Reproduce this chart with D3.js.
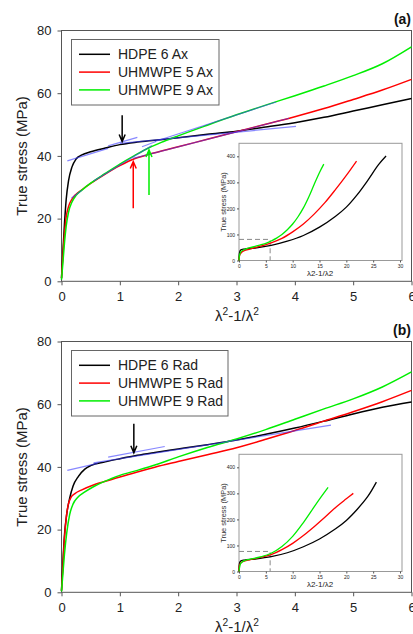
<!DOCTYPE html>
<html>
<head>
<meta charset="utf-8">
<script src="https://cdn.jsdelivr.net/npm/d3@7"></script>
<style>
body { margin: 0; background: #fff; }
svg { display: block; font-family: Arial, "Liberation Sans", sans-serif; }
.frame { fill: none; stroke: #555; stroke-width: 1; }
.tick line { stroke: #555; }
.tick text { fill: #222; }
.curve { fill: none; stroke-width: 1.5; }
.fit { fill: none; stroke: #3838ff; stroke-opacity: 0.6; stroke-width: 1.2; }
</style>
</head>
<body>
<script>
// tick labels
var xTicks = [0, 1, 2, 3, 4, 5, 6];
var yTicks = [0, 20, 40, 60, 80];
var insetXTicks = [0, 5, 10, 15, 20, 25, 30];
var insetYTicks = [0, 100, 200, 300, 400];

var namesAx = ["HDPE 6 Ax", "UHMWPE 5 Ax", "UHMWPE 9 Ax"];
var namesRad = ["HDPE 6 Rad", "UHMWPE 5 Rad", "UHMWPE 9 Rad"];
var colors = ["#000000", "#ff0000", "#00ee00"];

// (a) axial, [lambda^2-1/lambda^2, true stress MPa]
var axHdpe6 = [[0,1],[0.02,8],[0.05,18],[0.08,26],[0.12,32],[0.18,36.5],[0.25,39],[0.35,40.3],[0.5,41.3],[0.75,42.5],[1.0,43.6],[1.3,44.4],[1.6,45.0],[2.0,45.8],[2.5,46.9],[3.0,47.9],[3.5,49.2],[4.0,50.6],[4.5,52.3],[5.0,54.3],[5.5,56.3],[6.0,58.3]];
var axUhmw5 = [[0,1],[0.02,7],[0.05,15],[0.08,20.5],[0.12,23.8],[0.18,26.2],[0.25,27.8],[0.35,29.2],[0.5,31.2],[0.75,34.2],[1.0,36.9],[1.25,39.1],[1.5,40.5],[2.0,42.9],[2.5,45.3],[3.0,47.7],[3.5,50.1],[4.0,52.5],[4.5,55.1],[5.0,58.0],[5.5,61.0],[6.0,64.4]];
var axUhmw9 = [[0,0.5],[0.02,5],[0.05,12],[0.08,17.5],[0.12,22],[0.18,25.3],[0.25,27.4],[0.35,29.1],[0.5,31.3],[0.75,34.4],[1.0,37.4],[1.25,40.1],[1.5,42.6],[1.75,44.6],[2.0,46.4],[2.5,49.8],[3.0,53.1],[3.5,56.2],[4.0,59.2],[4.5,62.3],[5.0,65.6],[5.5,69.4],[6.0,74.8]];

// (b) radial
var radHdpe6 = [[0,0.5],[0.02,8],[0.05,18],[0.09,25],[0.14,30],[0.2,34],[0.29,37],[0.4,39.3],[0.5,40.4],[0.75,41.6],[1.0,42.6],[1.3,43.7],[1.6,44.6],[2.0,45.7],[2.5,47.1],[3.0,48.6],[3.5,50.4],[4.0,52.4],[4.5,54.6],[5.0,56.9],[5.5,59.0],[6.0,60.7]];
var radUhmw5 = [[0,0.5],[0.02,7],[0.05,17],[0.08,23.5],[0.11,27.5],[0.16,30.2],[0.23,31.5],[0.34,32.6],[0.57,34.4],[0.86,36.0],[1.0,36.8],[1.3,38.4],[1.6,39.9],[2.0,41.7],[2.5,43.9],[3.0,46.1],[3.5,48.8],[4.0,51.6],[4.5,54.6],[5.0,57.6],[5.5,60.8],[6.0,64.4]];
var radUhmw9 = [[0,0.3],[0.02,5],[0.05,12],[0.09,19],[0.14,24.8],[0.2,28.2],[0.28,30.3],[0.4,32.0],[0.57,33.9],[0.86,36.3],[1.0,37.3],[1.3,38.9],[1.6,40.6],[2.0,43.2],[2.5,46.2],[3.0,48.9],[3.5,51.9],[4.0,55.2],[4.5,58.5],[5.0,61.7],[5.5,65.5],[6.0,70.3]];

// blue fitted tangent lines, [start, end]
var axFits = [
    [[0.1,38.4],[0.8,42.4]],
    [[0.8,43.2],[1.3,45.9]],
    [[1.0,44.0],[4.02,49.4]],
    [[0.17,26.6],[0.35,29.0]],
    [[0.55,32.0],[1.55,43.3]],
    [[1.38,42.9],[1.62,44.6]],
    [[1.6,44.6],[3.68,57.2]],
    [[1.23,39.2],[3.9,52.0]]
];
var radFits = [
    [[0.1,38.9],[0.62,41.1]],
    [[0.8,43.1],[1.77,46.5]],
    [[0.55,41.3],[4.62,53.3]]
];

// arrows: [x, tail stress, tip stress, series index]
var axArrows = [[1.04, 53, 44.6, 0], [1.23, 23.3, 38.2, 1], [1.5, 27.5, 41.9, 2]];
var radArrows = [[1.24, 53.8, 44.5, 0]];

// insets, full range
var insetAxHdpe6 = [[0,0],[0.1,30],[0.3,40],[1,44],[3,48],[6,58],[9,74],[12,96],[15,128],[18,170],[20,205],[22,252],[24,308],[26,368],[27.4,401]];
var insetAxUhmw5 = [[0,0],[0.15,22],[0.5,32],[1,38],[2,44],[4,55],[6,68],[8,85],[10,110],[12,140],[14,178],[16,222],[18,273],[20,327],[21.9,382]];
var insetAxUhmw9 = [[0,0],[0.15,25],[0.4,35],[1,42],[2,49],[3,54],[4,60],[5,66],[6,75],[7,86],[8,100],[9,118],[10,140],[11,168],[12,202],[13,244],[14,292],[15,338],[15.8,370]];
var insetRadHdpe6 = [[0,0],[0.1,32],[0.3,40],[1,44],[3,48],[6,57],[9,72],[12,95],[15,125],[18,164],[20,196],[22,238],[24,288],[25.6,343]];
var insetRadUhmw5 = [[0,0],[0.1,25],[0.4,35],[1,40],[2,45],[4,54],[6,65],[8,84],[10,108],[12,138],[14,172],[16,208],[18,246],[20,279],[21.3,300]];
var insetRadUhmw9 = [[0,0],[0.1,15],[0.3,30],[0.8,40],[2,47],[4,56],[6,70],[8,96],[10,135],[12,188],[14,248],[15.5,292],[16.6,323]];

// dashed zoom box corner [x, stress]
var axBox = [5.8, 81];
var radBox = [5.8, 77];

var W = 413, H = 634;

var svg = d3.select("body").append("svg")
    .attr("width", W)
    .attr("height", H);

var x = d3.scaleLinear().domain([0, 6]).range([61.5, 411.5]);
var y = d3.scaleLinear().domain([0, 80]).range([281.3, 30.5]);

var ix = d3.scaleLinear().domain([0, 30]).range([239, 400]);
var iy = d3.scaleLinear().domain([0, 450]).range([260.5, 143.3]);

var line = d3.line()
    .x(function(d) { return x(d[0]); })
    .y(function(d) { return y(d[1]); })
    .curve(d3.curveMonotoneX);

var iline = d3.line()
    .x(function(d) { return ix(d[0]); })
    .y(function(d) { return iy(d[1]); })
    .curve(d3.curveCatmullRom.alpha(0.5));

function xLabel(g, cx, cy, size, sup) {
    var t = g.append("text")
        .attr("x", cx)
        .attr("y", cy)
        .attr("text-anchor", "middle")
        .attr("font-size", size)
        .attr("fill", "#222");
    t.append("tspan").text("λ");
    if (sup) {
        t.append("tspan").attr("dy", -6).attr("font-size", size * 0.68).text("2");
        t.append("tspan").attr("dy", 6).text("-1/λ");
        t.append("tspan").attr("dy", -6).attr("font-size", size * 0.68).text("2");
    } else {
        t.append("tspan").text("2-1/λ2");
    }
}

function drawInset(g, curves, box) {
    var ins = g.append("g").attr("class", "inset");

    ins.append("rect")
        .attr("x", 239)
        .attr("y", 143.3)
        .attr("width", 163)
        .attr("height", 117.2)
        .attr("fill", "#fff")
        .attr("stroke", "#999")
        .attr("stroke-width", 1);

    ins.append("g")
        .attr("transform", "translate(0,260.5)")
        .call(d3.axisBottom(ix).tickValues(insetXTicks).tickSize(2).tickPadding(1.5))
        .call(function(a) { a.select(".domain").remove(); })
        .selectAll("text").attr("font-size", 5).attr("fill", "#444");

    ins.append("g")
        .attr("transform", "translate(239,0)")
        .call(d3.axisLeft(iy).tickValues(insetYTicks).tickSize(2).tickPadding(2))
        .call(function(a) { a.select(".domain").remove(); })
        .selectAll("text").attr("font-size", 5).attr("fill", "#444");

    ins.selectAll(".tick line").attr("stroke", "#999");

    // dashed region of the main plot
    ins.append("path")
        .attr("d", "M" + ix(0) + "," + iy(box[1]) + "H" + ix(box[0]) + "V" + iy(0))
        .attr("fill", "none")
        .attr("stroke", "#888")
        .attr("stroke-width", 1)
        .attr("stroke-dasharray", "5,3");

    ins.selectAll(".icurve")
        .data(curves)
        .enter().append("path")
        .attr("class", "icurve")
        .attr("d", iline)
        .attr("fill", "none")
        .attr("stroke-width", 1.3)
        .attr("stroke", function(d, i) { return colors[i]; });

    ins.append("text")
        .attr("transform", "translate(226,202) rotate(-90)")
        .attr("text-anchor", "middle")
        .attr("font-size", 7.5)
        .attr("fill", "#333")
        .text("True stress (MPa)");

    xLabel(ins, 320, 276, 8, false);
}

function drawPanel(offsetY, curves, names, fits, arrows, insetCurves, box, tag, legendW) {
    var g = svg.append("g")
        .attr("transform", "translate(0," + offsetY + ")");

    // frame
    g.append("rect")
        .attr("class", "frame")
        .attr("x", x(0))
        .attr("y", y(80))
        .attr("width", x(6) - x(0))
        .attr("height", y(0) - y(80));

    g.append("g")
        .attr("transform", "translate(0," + y(0) + ")")
        .call(d3.axisBottom(x).tickValues(xTicks).tickSize(4).tickPadding(6).tickFormat(d3.format("d")))
        .call(function(a) { a.select(".domain").remove(); })
        .selectAll("text").attr("font-size", 13);

    g.append("g")
        .attr("transform", "translate(" + x(0) + ",0)")
        .call(d3.axisLeft(y).tickValues(yTicks).tickSize(4).tickPadding(6))
        .call(function(a) { a.select(".domain").remove(); })
        .selectAll("text").attr("font-size", 13);

    drawInset(g, insetCurves, box);

    g.selectAll(".curve")
        .data(curves)
        .enter().append("path")
        .attr("class", "curve")
        .attr("d", line)
        .attr("stroke", function(d, i) { return colors[i]; });

    g.selectAll(".fit")
        .data(fits)
        .enter().append("path")
        .attr("class", "fit")
        .attr("d", d3.line()
            .x(function(d) { return x(d[0]); })
            .y(function(d) { return y(d[1]); }));

    // arrows
    arrows.forEach(function(a) {
        var ax = x(a[0]), y0 = y(a[1]), y1 = y(a[2]);
        var dir = y1 > y0 ? 1 : -1;
        g.append("path")
            .attr("d", "M" + ax + "," + y0 + "V" + y1 +
                "M" + (ax - 3) + "," + (y1 - dir * 7) + "L" + ax + "," + y1 + "L" + (ax + 3) + "," + (y1 - dir * 7))
            .attr("fill", "none")
            .attr("stroke", colors[a[3]])
            .attr("stroke-width", 1.5);
    });

    // legend
    var lg = g.append("g");
    lg.append("rect")
        .attr("x", 71.5)
        .attr("y", 39.5)
        .attr("width", legendW)
        .attr("height", 65.5)
        .attr("fill", "#fff")
        .attr("stroke", "#666")
        .attr("stroke-width", 1);
    var rows = lg.selectAll(".lrow")
        .data(names)
        .enter().append("g")
        .attr("class", "lrow")
        .attr("transform", function(d, i) { return "translate(0," + (54.3 + i * 17.8) + ")"; });
    rows.append("line")
        .attr("x1", 79)
        .attr("x2", 110)
        .attr("stroke-width", 1.5)
        .attr("stroke", function(d, i) { return colors[i]; });
    rows.append("text")
        .attr("x", 118)
        .attr("dy", "0.35em")
        .attr("font-size", 14)
        .attr("fill", "#222")
        .text(function(d) { return d; });

    // axis titles
    g.append("text")
        .attr("transform", "translate(27," + ((y(0) + y(80)) / 2) + ") rotate(-90)")
        .attr("text-anchor", "middle")
        .attr("font-size", 15)
        .attr("fill", "#222")
        .text("True stress (MPa)");

    xLabel(g, 237, 321, 15, true);

    g.append("text")
        .attr("x", 411)
        .attr("y", 24)
        .attr("text-anchor", "end")
        .attr("font-size", 14)
        .attr("font-weight", "bold")
        .attr("fill", "#111")
        .text(tag);
}

drawPanel(0, [axHdpe6, axUhmw5, axUhmw9], namesAx, axFits, axArrows,
    [insetAxHdpe6, insetAxUhmw5, insetAxUhmw9], axBox, "(a)", 147.5);
drawPanel(311, [radHdpe6, radUhmw5, radUhmw9], namesRad, radFits, radArrows,
    [insetRadHdpe6, insetRadUhmw5, insetRadUhmw9], radBox, "(b)", 156.5);
</script>
</body>
</html>
